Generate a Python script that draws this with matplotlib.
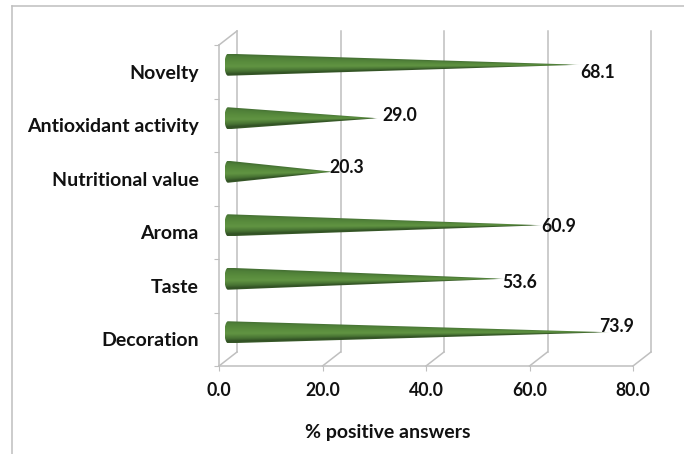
import numpy as np
import matplotlib
matplotlib.use("Agg")
import matplotlib.pyplot as plt
from matplotlib.lines import Line2D
from matplotlib.path import Path
from matplotlib.transforms import Affine2D, IdentityTransform

plt.rcParams['font.family'] = ['Lato', 'DejaVu Sans']
plt.rcParams['font.weight'] = 'bold'

# === Data (bottom to top) ===
categories = ["Decoration", "Taste", "Aroma", "Nutritional value",
              "Antioxidant activity", "Novelty"]
values = [73.9, 53.6, 60.9, 20.3, 29.0, 68.1]
x_ticks = [0, 20, 40, 60, 80]
x_labels = ["0.0", "20.0", "40.0", "60.0", "80.0"]
# label offsets from the cone tip, in pixels (hand placed in the original)
label_dx = [-11, -3, -2, -4, 4, 0]
label_dy = [6, -4, -1, 4, 3, -8]

W, H = 684, 454
GREY = "#bfbfbf"
LW = 1.1

fig = plt.figure(figsize=(W / 100, H / 100), dpi=100)
ax = fig.add_axes([219 / W, 1 - 366 / H, 414 / W, 321 / H])
ax.set_xlim(0, 80)
ax.set_ylim(0, 6)

# pseudo 3D depth: back wall and middle plane, in pixels
back = ax.transData + Affine2D().translate(18, 14)
mid = Affine2D().translate(9, 7)

# === Walls ===
for v in x_ticks:
    ax.plot([v, v], [0, 6], color=GREY, lw=LW, transform=back, clip_on=False, zorder=1)
    x0, y0 = ax.transData.transform((v, 0))
    ax.plot([x0, x0 + 18], [y0, y0 + 14], color=GREY, lw=LW,
            transform=IdentityTransform(), clip_on=False, zorder=1)
x0, y0 = ax.transData.transform((0, 6))
ax.plot([x0, x0 + 18], [y0, y0 + 14], color=GREY, lw=LW,
        transform=IdentityTransform(), clip_on=False, zorder=1)

# front edges
for s in ax.spines:
    ax.spines[s].set_visible(False)
ax.plot([0, 80], [0, 0], color=GREY, lw=LW, clip_on=False, zorder=1.5)
ax.plot([0, 0], [0, 6], color=GREY, lw=LW, clip_on=False, zorder=1.5)

# === Cones ===
stops = [-1.0, -0.8, -0.3, 0.15, 0.6, 0.88, 1.0]
reds = [0.27, 0.31, 0.35, 0.38, 0.28, 0.19, 0.22]
greens = [0.44, 0.50, 0.55, 0.58, 0.45, 0.31, 0.35]
blues = [0.20, 0.22, 0.24, 0.26, 0.20, 0.14, 0.16]

half_h = 11 / 53.5          # cone half height at the base, y units
rim = 3.5 / (414 / 80)      # half width of the base ellipse, x units

for i, val in enumerate(values):
    yc = i + 0.5
    # shading converges on the tip
    u = np.linspace(0, 1, 500)
    t = np.linspace(-1.02, 1.02, 80)
    uu, tt = np.meshgrid(u, t)
    s = np.clip(tt / np.maximum(1 - uu, 0.01), -1, 1)
    img = np.dstack([np.interp(s, stops, reds),
                     np.interp(s, stops, greens),
                     np.interp(s, stops, blues),
                     np.clip((1 - uu) * 25, 0, 1)])
    im = ax.imshow(img, extent=[-rim, val, yc - half_h, yc + half_h], aspect='auto',
                   interpolation='bilinear', zorder=2)
    im.set_transform(ax.transData + mid)
    a = np.linspace(np.pi / 2, 3 * np.pi / 2, 30)
    xs = np.concatenate([rim * np.cos(a), [val]])
    ys = np.concatenate([yc + half_h * np.sin(a), [yc]])
    im.set_clip_path(Path(np.column_stack([xs, ys])), ax.transData + mid)
    im.set_clip_on(True)

    ax.annotate(f"{val:.1f}", xy=(val, yc), xycoords='data',
                xytext=((9 + label_dx[i]) * 0.72, (7 + label_dy[i]) * 0.72),
                textcoords='offset points', ha='left', va='center',
                fontsize=12.7, fontweight='bold', color='#111111', zorder=5)

ax.set_xlim(0, 80)
ax.set_ylim(0, 6)

# === Axes text ===
ax.set_xticks(x_ticks)
ax.set_xticklabels(x_labels)
ax.set_yticks(np.arange(7))
ax.set_yticklabels([])
ax.set_yticks(np.arange(6) + 0.5, labels=categories, minor=True)
ax.tick_params(axis='both', which='major', length=3.6, width=0.8, color=GREY,
               labelsize=12.7, labelcolor='#111111')
ax.tick_params(axis='x', pad=8)
ax.tick_params(axis='y', which='minor', length=0, pad=14.5, labelsize=14, labelcolor='#111111')
ax.set_xlabel("% positive answers", fontsize=14, fontweight='bold', color='#111111')
ax.xaxis.set_label_coords(0.407, -0.18)

# === Outer frame: only the top and left edges show ===
fig.add_artist(Line2D([11.5 / W, 1], [1 - 5.5 / H, 1 - 5.5 / H], color=GREY, lw=LW))
fig.add_artist(Line2D([11.5 / W, 11.5 / W], [0, 1 - 5.5 / H], color=GREY, lw=LW))

fig.savefig("out.png", dpi=100)
